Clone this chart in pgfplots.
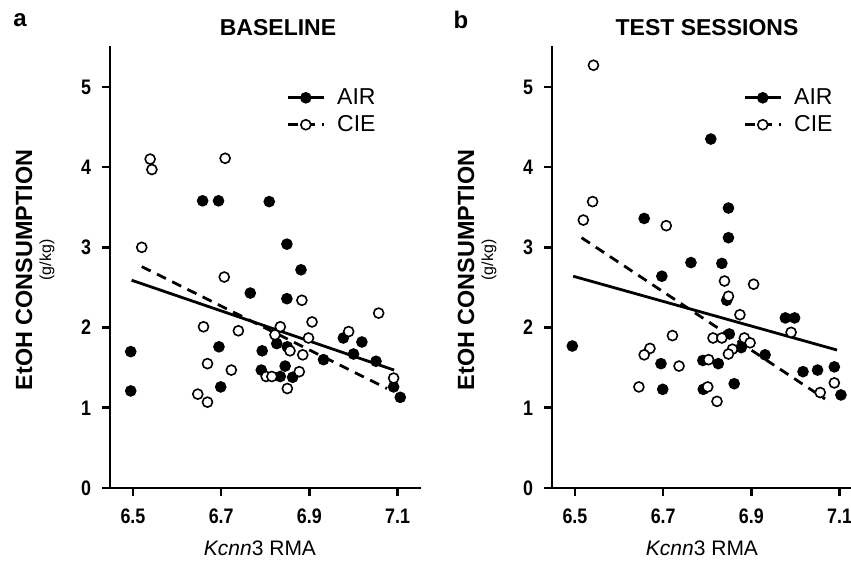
\documentclass[border=0pt]{standalone}
\usepackage{pgfplots}
\pgfplotsset{compat=1.18}
\usepackage{fontspec}
\setmainfont{Liberation Sans}
\newfontfamily\narrowfont{Liberation Sans}[FakeStretch=0.85]

\begin{document}
\begin{tikzpicture}
\pgfplotsset{
 panel/.style={
  scale only axis, width=155.5pt, height=221pt,
  xmin=6.448, xmax=7.153, ymin=0, ymax=5.51,
  axis lines=left, axis line style={-, line width=1.3pt},
  every tick/.style={line width=1.3pt, black}, major tick length=4pt, tick align=outside,
  xtick={6.5,6.7,6.9,7.1}, xticklabels={6.5,6.7,6.9,7.1},
  ytick={0,1,2,3,4,5}, yticklabels={0,1,2,3,4,5},
  tick label style={font=\narrowfont\bfseries\fontsize{10.5}{12}\selectfont},
  xticklabel style={yshift=-3pt},
  yticklabel style={xshift=-2pt},
  /pgf/number format/assume math mode=true,
  clip=false,
  legend cell align=left,
  legend style={draw=none, fill=none, font=\fontsize{11.5}{13}\selectfont, row sep=0pt, column sep=4pt, inner sep=0pt, nodes={inner sep=2pt}},
  legend image code/.code={\draw[mark repeat=2,mark phase=2,#1] plot coordinates {(0pt,0pt) (9pt,0pt) (18pt,0pt)};},
 },
 air/.style={only marks, mark=*, mark size=2.6pt, mark options={fill=black, draw=black, line width=0.6pt}, forget plot},
 cie/.style={only marks, mark=*, mark size=2.5pt, mark options={fill=white, draw=black, line width=0.8pt}, forget plot},
 fitair/.style={black, line width=1.4pt, forget plot},
 fitcie/.style={black, line width=1.4pt, dash pattern=on 5pt off 3.5pt, forget plot},
}
% ---------------- Panel a ----------------
\begin{axis}[panel, at={(55pt,36.5pt)}, anchor=south west,
  legend style={at={(0.566,0.914)}, anchor=north west}]
\addlegendimage{black, line width=1.4pt, mark=*, mark size=2.6pt, mark options={solid, fill=black, line width=0.6pt}}
\addlegendentry{AIR}
\addlegendimage{black, line width=1.4pt, dash pattern=on 5pt off 3.5pt, mark=*, mark size=2.5pt, mark options={solid, fill=white, line width=0.8pt}}
\addlegendentry{CIE}
\addplot[air] table {
x y
6.658 3.58
6.694 3.58
6.766 2.43
6.495 1.70
6.695 1.76
6.495 1.21
6.699 1.26
6.809 3.57
6.849 3.04
6.881 2.72
6.849 2.36
6.977 1.87
7.019 1.82
6.826 1.80
6.793 1.71
6.850 1.76
6.932 1.60
7.000 1.67
7.051 1.58
6.791 1.47
6.845 1.52
6.834 1.39
6.862 1.38
7.091 1.26
7.106 1.13
};
\addplot[cie] table {
x y
6.539 4.10
6.543 3.97
6.709 4.11
6.520 3.00
6.707 2.63
6.660 2.01
6.739 1.96
6.669 1.55
6.723 1.47
6.647 1.17
6.669 1.07
6.883 2.34
7.057 2.18
6.906 2.07
6.834 2.01
6.989 1.95
6.898 1.87
6.822 1.91
6.856 1.71
6.885 1.66
6.802 1.39
6.815 1.39
6.877 1.45
6.850 1.24
7.091 1.37
};
\addplot[fitair] coordinates {(6.497,2.59) (7.092,1.47)};
\addplot[fitcie] coordinates {(6.520,2.76) (7.076,1.24)};
\end{axis}
% ---------------- Panel b ----------------
\begin{axis}[panel, at={(276pt,36.5pt)}, anchor=south west,
  legend style={at={(0.614,0.914)}, anchor=north west}]
\addlegendimage{black, line width=1.4pt, mark=*, mark size=2.6pt, mark options={solid, fill=black, line width=0.6pt}}
\addlegendentry{AIR}
\addlegendimage{black, line width=1.4pt, dash pattern=on 5pt off 3.5pt, mark=*, mark size=2.5pt, mark options={solid, fill=white, line width=0.8pt}}
\addlegendentry{CIE}
\addplot[air] table {
x y
6.657 3.36
6.697 2.64
6.494 1.77
6.695 1.55
6.699 1.23
6.808 4.35
6.848 3.49
6.848 3.12
6.763 2.81
6.833 2.80
6.844 2.34
6.977 2.12
6.998 2.12
6.850 1.92
6.877 1.75
6.931 1.66
6.790 1.59
6.825 1.55
7.017 1.45
7.050 1.47
7.088 1.51
6.791 1.23
6.861 1.30
7.103 1.16
};
\addplot[cie] table {
x y
6.542 5.27
6.540 3.57
6.519 3.34
6.707 3.27
6.721 1.90
6.670 1.74
6.657 1.66
6.736 1.52
6.645 1.26
6.839 2.58
6.905 2.54
6.848 2.39
6.874 2.16
6.990 1.94
6.813 1.87
6.833 1.87
6.884 1.87
6.897 1.81
6.857 1.73
6.848 1.67
6.803 1.60
7.088 1.31
6.801 1.26
7.056 1.19
6.822 1.08
};
\addplot[fitair] coordinates {(6.496,2.64) (7.094,1.72)};
\addplot[fitcie] coordinates {(6.515,3.12) (7.067,1.11)};
\end{axis}
% ---------------- Labels ----------------
\node[font=\bfseries\fontsize{12}{14}\selectfont] at (10pt,270.5pt) {a};
\node[font=\bfseries\fontsize{12}{14}\selectfont] at (230.5pt,270.5pt) {b};
\node[font=\bfseries\fontsize{11.5}{13}\selectfont] at (139pt,266.5pt) {BASELINE};
\node[font=\bfseries\fontsize{11.5}{13}\selectfont] at (353.5pt,266.5pt) {TEST SESSIONS};
\node[font=\bfseries\fontsize{11.7}{13}\selectfont, rotate=90] at (12pt,145.5pt) {EtOH CONSUMPTION};
\node[font=\fontsize{8}{9}\selectfont, rotate=90] at (23.5pt,150.5pt) {(g/kg)};
\node[font=\bfseries\fontsize{11.7}{13}\selectfont, rotate=90] at (233pt,145.5pt) {EtOH CONSUMPTION};
\node[font=\fontsize{8}{9}\selectfont, rotate=90] at (244.5pt,150.5pt) {(g/kg)};
\node[font=\fontsize{10.5}{12}\selectfont] at (130pt,6.5pt) {\textit{Kcnn}3 RMA};
\node[font=\fontsize{10.5}{12}\selectfont] at (351pt,6.5pt) {\textit{Kcnn}3 RMA};
\pgfresetboundingbox
\useasboundingbox (0pt,0pt) rectangle (425.5pt,280.5pt);
\end{tikzpicture}
\end{document}
